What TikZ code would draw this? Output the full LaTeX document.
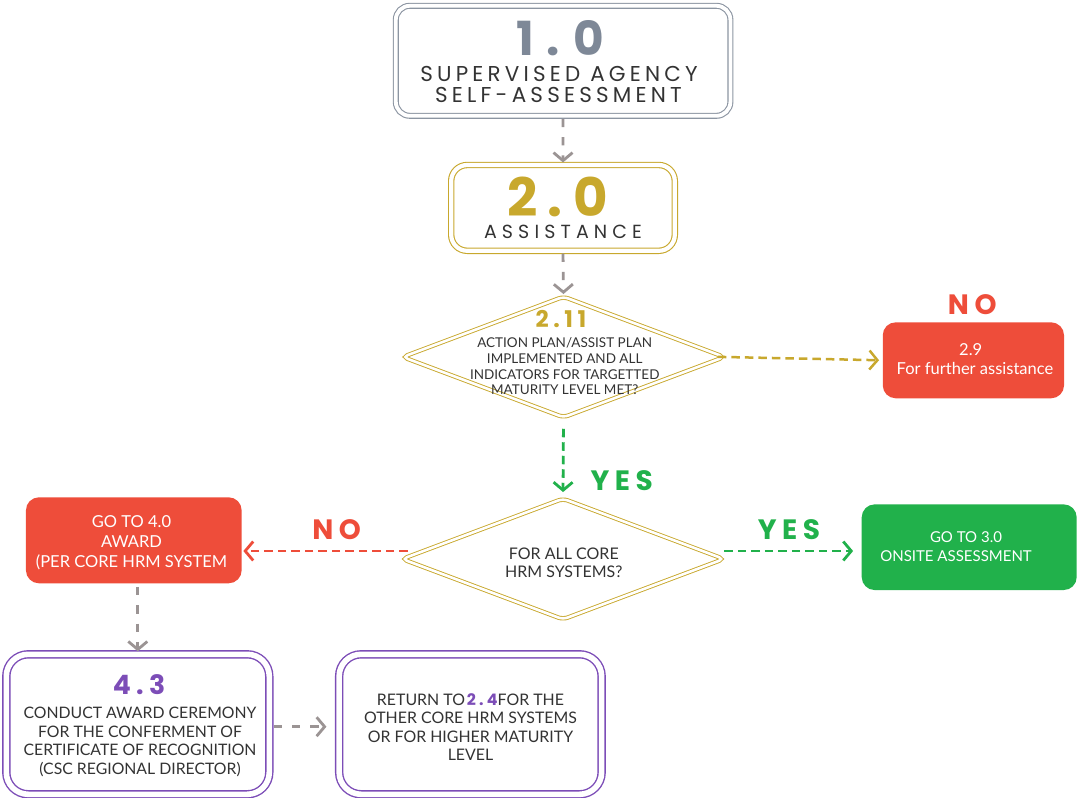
\documentclass[tikz,border=0pt]{standalone}
\usepackage{fontspec}
\usetikzlibrary{arrows.meta,shapes.geometric}
\setmainfont{Lato}
\newfontfamily\titlef[LetterSpace=20]{Poppins}
\newfontfamily\titlew[LetterSpace=28]{Poppins}
\newfontfamily\subf[LetterSpace=19.5]{Poppins}
\newfontfamily\subw[LetterSpace=27]{Poppins}
\definecolor{cgray}{HTML}{8C95A2}
\definecolor{ctitle}{HTML}{7E8897}
\definecolor{cgold}{HTML}{C8A82D}
\definecolor{cred}{HTML}{EE4D3A}
\definecolor{cgreen}{HTML}{21B14B}
\definecolor{cpurple}{HTML}{7C4DB7}
\definecolor{carrow}{HTML}{9B9494}
\definecolor{ctext}{HTML}{333333}
\tikzset{
  dbox/.style={draw, double=white, line width=1.1pt, rounded corners=14pt, inner sep=0pt},
  fbox/.style={rounded corners=13pt, inner sep=0pt},
  diam/.style={diamond, draw=cgold, double=white, double distance=2.6pt, line width=0.9pt,
     rounded corners=5pt, inner sep=0pt, minimum width=322pt, minimum height=121pt},
  con/.style={line width=2.8pt, dash pattern=on 8.5pt off 5pt, -{Straight Barb[length=8pt,width=19pt]}},
  gcon/.style={con, draw=carrow, dash pattern=on 8.3pt off 10pt},
  lbl/.style={anchor=base, inner sep=0pt},
  txt/.style={align=center, inner sep=0pt, text=ctext},
  big/.style={lbl, text depth=0pt, font=\titlef\bfseries\fontsize{#1}{#1}\selectfont},
  sub/.style={lbl, text=ctext, font=\subf\fontsize{#1}{#1}\selectfont},
}
\begin{document}
\begin{tikzpicture}[x=1pt,y=-1pt]
\useasboundingbox (0,0) rectangle (1077,798);
% ---- shapes
\node[dbox, draw=cgray, double distance=3.8pt, minimum width=334.6pt, minimum height=110pt] (b1) at (563.1,60.8) {};
\node[dbox, draw=cgold, double distance=4.2pt, rounded corners=16pt, minimum width=223.6pt, minimum height=85.8pt] (b2) at (563,207.9) {};
\node[diam] (d1) at (563.5,357) {};
\node[fbox, fill=cred, minimum width=181.3pt, minimum height=76pt] (r29) at (973.4,360.3) {};
\node[diam] (d2) at (563,559) {};
\node[fbox, fill=cred, minimum width=215.7pt, minimum height=86pt] (r40) at (133.8,540.3) {};
\node[fbox, fill=cgreen, minimum width=215pt, minimum height=85.7pt] (g30) at (969.2,547.2) {};
\node[dbox, draw=cpurple, line width=1.4pt, double distance=5.6pt, rounded corners=22pt, minimum width=263pt, minimum height=140pt] (b43) at (137.8,724.3) {};
\node[dbox, draw=cpurple, line width=1.4pt, double distance=5.6pt, rounded corners=22pt, minimum width=262.5pt, minimum height=140pt] (bret) at (470.4,724.3) {};
% ---- texts
\node[lbl, text depth=0pt, text=ctitle, font=\titlew\bfseries\fontsize{47}{47}\selectfont] (t10) at (560,55) {1.0};
\node[sub=21.5] (t10a) at (559,81.7) {SUPERVISED AGENCY};
\node[sub=21.5] (t10b) at (558.5,102.3) {SELF-ASSESSMENT};
\node[big=53, text=cgold] (t20) at (557.5,216.5) {2.0};
\node[lbl, text=ctext, text height=13pt, font=\subw\fontsize{19}{19}\selectfont] (t20a) at (563,238.3) {ASSISTANCE};
\node[big=23, text=cgold] (t211) at (561,327.7) {2.11};
\node[txt, font=\fontsize{13.5}{15.7}\selectfont] (t211a) at (564.7,366.5)
  {ACTION PLAN/ASSIST PLAN\\IMPLEMENTED AND ALL\\INDICATORS FOR TARGETTED\\MATURITY LEVEL MET?};
\node[big=28, text=cred] (no1) at (972.3,314.3) {NO};
\node[lbl, text=white, font=\fontsize{16.5}{16.5}\selectfont] (t29a) at (970.7,355) {2.9};
\node[lbl, text=white, font=\fontsize{16.5}{16.5}\selectfont] (t29b) at (975,374.3) {For further assistance};
\node[big=28, text=cgreen] (yes1) at (621.7,490) {YES};
\node[txt, font=\fontsize{16}{17.7}\selectfont] (td2) at (563.8,563) {FOR ALL CORE\\HRM SYSTEMS?};
\node[big=28, text=cred] (no2) at (336.7,539.3) {NO};
\node[big=28, text=cgreen] (yes2) at (789,539.3) {YES};
\node[txt, text=white, font=\fontsize{16.5}{20}\selectfont] (t40) at (131.5,542.5) {GO TO 4.0\\AWARD\\(PER CORE HRM SYSTEM};
\node[lbl, text=white, font=\fontsize{15}{15}\selectfont] (t30a) at (966,542.7) {GO TO 3.0};
\node[lbl, text=white, font=\fontsize{15}{15}\selectfont] (t30b) at (956,561.7) {ONSITE ASSESSMENT};
\node[big=26.7, text=cpurple] (t43) at (139,694.3) {4.3};
\node[txt, font=\fontsize{15.8}{18.5}\selectfont] (t43a) at (140,742)
  {CONDUCT AWARD CEREMONY\\FOR THE CONFERMENT OF\\CERTIFICATE OF RECOGNITION\\(CSC REGIONAL DIRECTOR)};
\node[txt, font=\fontsize{15.9}{18.3}\selectfont] (tret) at (470.5,727)
  {RETURN TO\kern2pt{\titlef\bfseries\color{cpurple}2.4}FOR THE\\OTHER CORE HRM SYSTEMS\\OR FOR HIGHER MATURITY\\LEVEL};
% ---- connectors
\draw[gcon, shorten <=2.5pt, shorten >=2pt] (b1.south) -- (b2.north);
\draw[gcon, shorten <=2.2pt, shorten >=2pt] (b2.south) -- (d1.north);
\draw[con, draw=cgold, line width=2.5pt, shorten <=-7pt, shorten >=3.5pt] (d1.east) -- (r29.west);
\draw[con, draw=cgreen, shorten <=10.8pt, shorten >=6pt] (d1.south) -- (d2.north);
\draw[con, draw=cred, shorten <=-6pt, shorten >=1.5pt] ([yshift=8pt]d2.west) -- ([yshift=8pt]d2.west -| r40.east);
\draw[con, draw=cgreen, shorten >=8.4pt] ([yshift=8pt]d2.east) -- ([yshift=8pt]d2.east -| g30.west);
\draw[gcon, shorten <=3.4pt, shorten >=2.3pt] (b43.north |- r40.south) -- (b43.north);
\draw[gcon, shorten <=3.7pt, shorten >=12pt] ([yshift=-2.4pt]b43.east) -- ([yshift=-2.4pt]bret.west);
\end{tikzpicture}
\end{document}
